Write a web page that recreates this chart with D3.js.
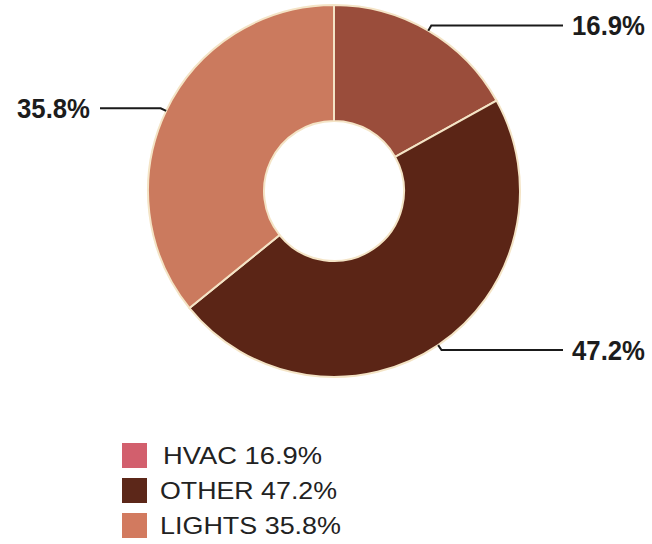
<!DOCTYPE html>
<html><head><meta charset="utf-8">
<script src="https://cdn.jsdelivr.net/npm/d3@7"></script>
<style>body{margin:0;background:#fff}svg{display:block}</style>
</head><body>
<svg id="c" width="652" height="544"></svg>
<script>
const categories = ["HVAC", "OTHER", "LIGHTS"];
const values = [16.9, 47.2, 35.8];
const sliceColors = ["#9a4d3b", "#5b2516", "#cb7a5e"];
const legendColors = ["#d25f6d", "#5c2719", "#d27a5f"];
const valueLabels = ["16.9%", "47.2%", "35.8%"];

const svg = d3.select("#c");
const cx = 334, cy = 191, R = 186, r = 70;
const g = svg.append("g").attr("transform", `translate(${cx},${cy})`);
const pie = d3.pie().sort(null).value(d => d)(values);
const arc = d3.arc().innerRadius(r).outerRadius(R);
g.selectAll("path.s").data(pie).join("path")
  .attr("class", "s")
  .attr("d", arc)
  .attr("fill", (d, i) => sliceColors[i])
  .attr("stroke", "#f4e4c6")
  .attr("stroke-width", 2);

// leader lines + labels
pie.forEach((d, i) => {
  const a = (d.startAngle + d.endAngle) / 2;
  const p0 = [Math.sin(a) * R, -Math.cos(a) * R];
  const p1 = [Math.sin(a) * (R + 6), -Math.cos(a) * (R + 6)];
  const right = Math.sin(a) > 0;
  const xEnd = right ? 563 - cx : 100 - cx;
  g.append("polyline")
    .attr("points", [p0, p1, [xEnd, p1[1]]].map(p => p.join(",")).join(" "))
    .attr("fill", "none").attr("stroke", "#1a1a1a").attr("stroke-width", 2);
  g.append("text")
    .attr("x", right ? 572 - cx : 90 - cx)
    .attr("y", p1[1])
    .attr("dy", "0.36em")
    .attr("text-anchor", right ? "start" : "end")
    .attr("font-family", "'Liberation Sans', Arial, sans-serif")
    .attr("font-weight", "bold")
    .attr("font-size", 27)
    .attr("textLength", 73)
    .attr("lengthAdjust", "spacingAndGlyphs")
    .attr("fill", "#1c1c1c")
    .text(valueLabels[i]);
});

// legend
const leg = svg.append("g");
const legTextX = [163, 160, 160];
const legLen = [159, 177, 181];
categories.forEach((c, i) => {
  const y = 443 + i * 35;
  leg.append("rect").attr("x", 122).attr("y", y).attr("width", 25).attr("height", 25)
    .attr("fill", legendColors[i]);
  leg.append("text")
    .attr("x", legTextX[i]).attr("y", y + 12.5).attr("dy", "0.36em")
    .attr("font-family", "'Liberation Sans', Arial, sans-serif")
    .attr("font-size", 24)
    .attr("textLength", legLen[i])
    .attr("lengthAdjust", "spacingAndGlyphs")
    .attr("fill", "#222")
    .text(c + " " + valueLabels[i]);
});
</script>
</body></html>
